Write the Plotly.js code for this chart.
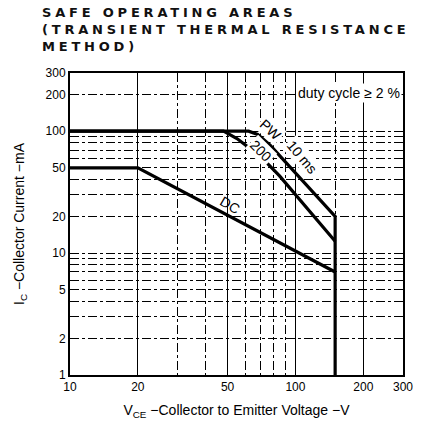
<!DOCTYPE html>
<html>
<head>
<meta charset="utf-8">
<script src="https://cdn.plot.ly/plotly-3.0.1.min.js"></script>
<style>
html,body{margin:0;padding:0;background:#fff;}
#chart{width:422px;height:433px;}
.gtitle{letter-spacing:3.8px;}
</style>
</head>
<body>
<div id="chart"></div>
<script>
// Data (VCE in V, IC in mA)
const dcV = [10, 20, 150];
const dcI = [50, 50, 7];
const pw200V = [10, 48, 55, 70, 85, 150];
const pw200I = [100, 100, 87, 62, 43, 12.5];
const pw10V = [10, 62, 68, 77, 150, 150];
const pw10I = [100, 100, 94, 77, 20, 1];

const xTickVals = [10, 20, 50, 100, 200, 300];
const xTickText = ['10', '20', '50', '100', '200', '300'];
const yTickVals = [1, 2, 5, 10, 20, 50, 100, 200, 300];
const yTickText = ['1', '2', '5', '10', '20', '50', '100', '200', '300'];
const xMinorVals = [30, 40, 60, 70, 80, 90, 150];
const yMinorVals = [3, 4, 6, 7, 8, 9, 30, 40, 60, 70, 80, 90];

const lineStyle = {color: '#000', width: 3.2};
const traces = [
  {x: dcV, y: dcI, mode: 'lines', line: lineStyle, hoverinfo: 'skip'},
  {x: pw200V, y: pw200I, mode: 'lines', line: lineStyle, hoverinfo: 'skip'},
  {x: pw10V, y: pw10I, mode: 'lines', line: lineStyle, hoverinfo: 'skip'}
];

const tickFont = {family: 'Liberation Sans, Arial, sans-serif', size: 12, color: '#000'};
const labFont = {family: 'Liberation Sans, Arial, sans-serif', size: 14, color: '#000'};

const layout = {
  width: 422, height: 433,
  margin: {l: 70, r: 19, t: 73, b: 58},
  paper_bgcolor: '#fff', plot_bgcolor: '#fff',
  showlegend: false,
  title: {
    text: 'SAFE OPERATING AREAS<br>(TRANSIENT THERMAL RESISTANCE<br>METHOD)',
    x: 42/422, xref: 'container', xanchor: 'left',
    y: 1 - 17/433, yref: 'container', yanchor: 'top',
    font: {family: 'DejaVu Sans, sans-serif', size: 13, weight: 'bold', color: '#111'}
  },
  xaxis: {
    type: 'log', range: [1, Math.log10(300)],
    tickmode: 'array', tickvals: xTickVals, ticktext: xTickText,
    ticks: '', tickfont: tickFont,
    showline: true, linecolor: '#000', linewidth: 2, mirror: true,
    showgrid: true, gridcolor: '#000', gridwidth: 1, griddash: 'solid',
    minor: {tickmode: 'array', tickvals: xMinorVals, showgrid: true, gridcolor: '#000', gridwidth: 1, griddash: 'dashdot', ticks: ''},
    zeroline: false,
    title: {text: 'V<sub>CE</sub> −Collector to Emitter Voltage −V', font: {family: 'Liberation Sans, Arial, sans-serif', size: 14, color: '#000'}, standoff: 12}
  },
  yaxis: {
    type: 'log', range: [0, Math.log10(300)],
    tickmode: 'array', tickvals: yTickVals, ticktext: yTickText,
    ticks: '', tickfont: tickFont,
    showline: true, linecolor: '#000', linewidth: 2, mirror: true,
    showgrid: true, gridcolor: '#000', gridwidth: 1, griddash: 'dashdot',
    minor: {tickmode: 'array', tickvals: yMinorVals, showgrid: true, gridcolor: '#000', gridwidth: 1, griddash: 'dashdot', ticks: ''},
    zeroline: false,
    title: {text: 'I<sub>C</sub> −Collector Current −mA', font: {family: 'Liberation Sans, Arial, sans-serif', size: 14, color: '#000'}, standoff: 18}
  },
  annotations: [
    {x: 1.7095, y: 1.3946, xref: 'x', yref: 'y', text: 'DC', showarrow: false, textangle: 30, font: labFont},
    {x: 1.847, y: 1.8376, xref: 'x', yref: 'y', text: '200', showarrow: false, textangle: 45, font: labFont, bgcolor: '#fff'},
    {x: 1.891, y: 2.010, xref: 'x', yref: 'y', text: 'PW', showarrow: false, textangle: 42, font: labFont, bgcolor: '#fff'},
    {x: 2.029, y: 1.788, xref: 'x', yref: 'y', text: '10 ms', showarrow: false, textangle: 50, font: labFont, bgcolor: '#fff'},
    {x: 0.997, y: 0.967, xref: 'paper', yref: 'paper', xanchor: 'right', text: 'duty cycle ≥ 2 %', showarrow: false, font: {family: 'Liberation Sans, Arial, sans-serif', size: 14, color: '#000'}, bgcolor: '#fff', borderpad: 1}
  ]
};

Plotly.newPlot('chart', traces, layout, {staticPlot: true, displayModeBar: false});
</script>
</body>
</html>
